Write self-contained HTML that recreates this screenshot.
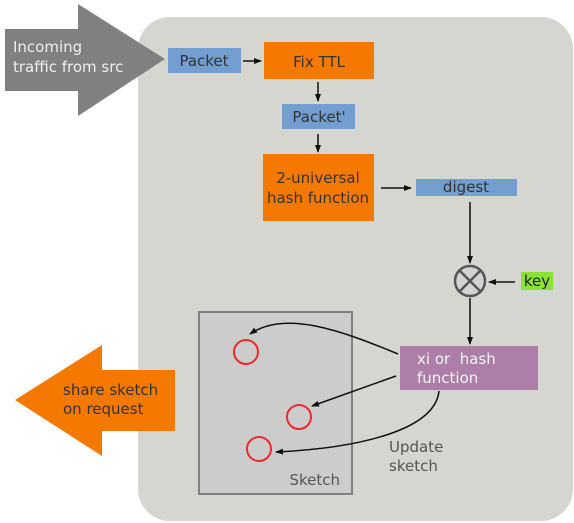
<!DOCTYPE html>
<html><head><meta charset="utf-8"><style>body{margin:0;background:#fff;overflow:hidden}svg{display:block}text{font-family:"DejaVu Sans","Liberation Sans",sans-serif}</style></head><body>
<svg width="574" height="523" viewBox="0 0 574 523" xmlns="http://www.w3.org/2000/svg">
<defs><marker id="a" markerWidth="8" markerHeight="8" refX="7" refY="4" orient="auto" markerUnits="userSpaceOnUse"><path d="M0,1 L8,4 L0,7 z" fill="#111"/></marker></defs>
<rect x="138" y="17" width="435" height="504" rx="32" fill="#d4d6cf"/>
<polygon points="5,29 78,29 78,4 165,59 78,116 78,91 5,91" fill="#808080"/>
<text x="13" y="52" font-size="15" fill="#eee">Incoming</text>
<text x="13" y="72" font-size="15" fill="#eee">traffic from src</text>
<polygon points="15,400 102,345 102,370 175,370 175,431 102,431 102,456" fill="#f57900"/>
<text x="63" y="395" font-size="15" fill="#333">share sketch</text>
<text x="63" y="414" font-size="15" fill="#333">on request</text>
<rect x="168" y="48" width="73" height="25" fill="#729fcf"/>
<text x="204" y="66" font-size="15" fill="#333" text-anchor="middle">Packet</text>
<line x1="243" y1="61" x2="261" y2="61" stroke="#111" stroke-width="1.5" marker-end="url(#a)"/>
<rect x="264" y="42" width="110" height="37" fill="#f57900"/>
<text x="319" y="67" font-size="15" fill="#333" text-anchor="middle">Fix TTL</text>
<rect x="282" y="104" width="73" height="25" fill="#729fcf"/>
<text x="319" y="122" font-size="15" fill="#333" text-anchor="middle">Packet'</text>
<rect x="263" y="154" width="111" height="67" fill="#f57900"/>
<text x="318" y="183" font-size="15" fill="#333" text-anchor="middle">2-universal</text>
<text x="318" y="203" font-size="15" fill="#333" text-anchor="middle">hash function</text>
<line x1="318" y1="82" x2="318" y2="101" stroke="#111" stroke-width="1.5" marker-end="url(#a)"/>
<line x1="318" y1="134" x2="318" y2="152" stroke="#111" stroke-width="1.5" marker-end="url(#a)"/>
<line x1="381" y1="188" x2="411" y2="188" stroke="#111" stroke-width="1.5" marker-end="url(#a)"/>
<rect x="416" y="179" width="101" height="17" fill="#729fcf"/>
<text x="466" y="192" font-size="15" fill="#333" text-anchor="middle">digest</text>
<line x1="470" y1="202" x2="470" y2="263" stroke="#111" stroke-width="1.5" marker-end="url(#a)"/>
<circle cx="470" cy="281" r="15" fill="#d3d3d3" stroke="#555" stroke-width="2.5"/>
<line x1="459" y1="270" x2="481" y2="292" stroke="#555" stroke-width="2.5"/>
<line x1="481" y1="270" x2="459" y2="292" stroke="#555" stroke-width="2.5"/>
<rect x="521" y="272" width="32" height="18" fill="#8ae234"/>
<text x="537" y="286" font-size="15" fill="#222" text-anchor="middle">key</text>
<line x1="515" y1="282" x2="489" y2="282" stroke="#111" stroke-width="1.5" marker-end="url(#a)"/>
<line x1="470" y1="298" x2="470" y2="344" stroke="#111" stroke-width="1.5" marker-end="url(#a)"/>
<rect x="400" y="346" width="138" height="44" fill="#ad7fa8"/>
<text x="417" y="364" font-size="15" fill="#f4f4f4" xml:space="preserve">xi or  hash</text>
<text x="417" y="383" font-size="15" fill="#f4f4f4">function</text>
<rect x="199" y="312" width="153" height="182" fill="#cccccc" stroke="#808080" stroke-width="2"/>
<text x="340" y="485" font-size="15" fill="#555" text-anchor="end">Sketch</text>
<circle cx="246" cy="352" r="12" fill="none" stroke="#ef2929" stroke-width="2"/>
<circle cx="299" cy="417" r="12" fill="none" stroke="#ef2929" stroke-width="2"/>
<circle cx="259" cy="449" r="12" fill="none" stroke="#ef2929" stroke-width="2"/>
<path d="M398,354 C340,330 285,310 250,334" fill="none" stroke="#111" stroke-width="1.5" marker-end="url(#a)"/>
<line x1="396" y1="376" x2="312" y2="406" stroke="#111" stroke-width="1.5" marker-end="url(#a)"/>
<path d="M439,391 C435,430 360,448 276,452" fill="none" stroke="#111" stroke-width="1.5" marker-end="url(#a)"/>
<text x="389" y="452" font-size="15" fill="#555">Update</text>
<text x="389" y="471" font-size="15" fill="#555">sketch</text>
</svg>
</body></html>
